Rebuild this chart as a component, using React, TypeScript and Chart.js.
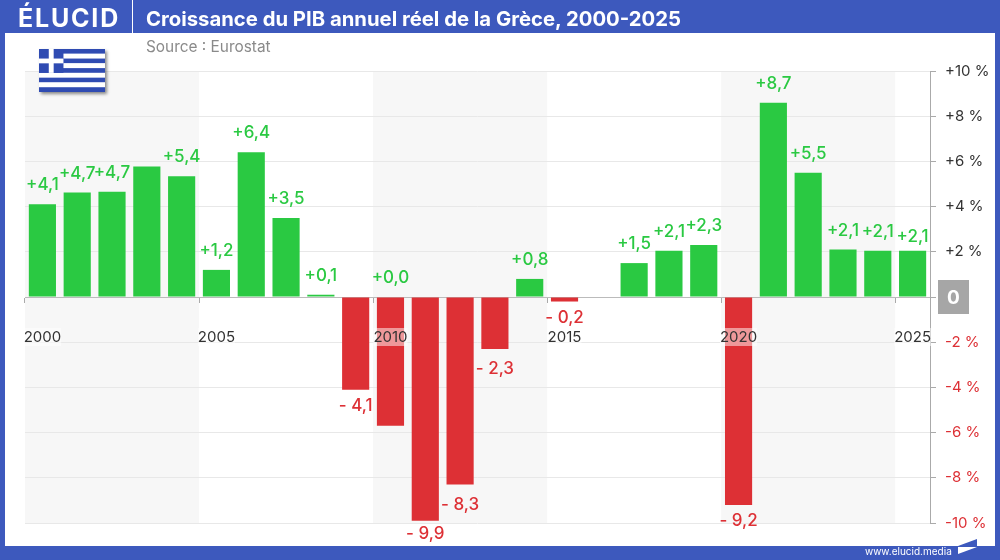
import { useEffect, useRef } from "react";
import { Chart, registerables } from "chart.js";
Chart.register(...registerables);

const years = ["2000","2001","2002","2003","2004","2005","2006","2007","2008","2009","2010","2011","2012","2013","2014","2015","2016","2017","2018","2019","2020","2021","2022","2023","2024","2025"];
const growth = [4.1, 4.62, 4.66, 5.77, 5.34, 1.2, 6.4, 3.5, 0.1, -4.1, -5.7, -9.9, -8.3, -2.3, 0.8, -0.2, 0, 1.5, 2.05, 2.3, -9.2, 8.6, 5.5, 2.1, 2.05, 2.05];
// the source leaves some bars unlabelled, and prints +0,0 above 2010
const barLabels = ["+4,1", "+4,7", "+4,7", null, "+5,4", "+1,2", "+6,4", "+3,5", "+0,1", "- 4,1", "+0,0", "- 9,9", "- 8,3", "- 2,3", "+0,8", "- 0,2", null, "+1,5", "+2,1", "+2,3", "- 9,2", "+8,7", "+5,5", "+2,1", "+2,1", "+2,1"];
const shadedFrom = ["2000", "2010", "2020"];

const BLUE = "#3d59bd";
const GREEN = "#2ac942";
const RED = "#dd3035";
const FONT = "Inter, sans-serif";

// a few labels sit further from their bar in the original
const labelNudge: Record<string, number> = { "2011": -3, "2012": 4, "2013": 4, "2025": 5 };

const decorPlugin = {
  id: "decor",
  beforeDraw(chart: any) {
    const { ctx, chartArea, scales } = chart;
    const step = scales.x.width / years.length;
    ctx.save();
    ctx.fillStyle = "#f7f7f7";
    shadedFrom.forEach((y) => {
      const left = scales.x.getPixelForValue(years.indexOf(y)) - step / 2;
      ctx.fillRect(left, chartArea.top, step * 5, chartArea.height);
    });
    ctx.restore();
  },
  afterDatasetsDraw(chart: any) {
    const { ctx, scales, chartArea } = chart;
    ctx.save();
    ctx.font = "500 17px " + FONT;
    ctx.textAlign = "center";
    ctx.textBaseline = "middle";
    barLabels.forEach((label, i) => {
      if (!label) return;
      const up = label[0] === "+";
      const edge = up ? Math.max(growth[i], 0) : Math.min(growth[i], 0);
      const y = scales.y.getPixelForValue(edge) + (up ? -19 : 16) + (labelNudge[years[i]] || 0);
      ctx.fillStyle = up ? GREEN : RED;
      ctx.fillText(label, scales.x.getPixelForValue(i), y);
    });
    // grey box with the 0 of the value axis
    const zero = scales.y.getPixelForValue(0);
    ctx.fillStyle = "#a6a6a6";
    ctx.fillRect(chartArea.right + 8, zero - 17, 31, 34);
    ctx.fillStyle = "#ffffff";
    ctx.font = "700 19px " + FONT;
    ctx.fillText("0", chartArea.right + 23.5, zero + 1);
    ctx.restore();
  },
};

const GrowthChart = () => {
  const chartRef = useRef<HTMLCanvasElement | null>(null);

  useEffect(() => {
    if (!chartRef.current) return;
    const chart = new Chart(chartRef.current, {
      type: "bar",
      data: {
        labels: years,
        datasets: [
          {
            data: growth,
            backgroundColor: growth.map((v) => (v < 0 ? RED : GREEN)),
            barPercentage: 0.78,
            categoryPercentage: 1,
          },
        ],
      },
      options: {
        responsive: false,
        animation: false,
        layout: { padding: { left: 25, right: 0, top: 71, bottom: 37 } },
        plugins: { legend: { display: false }, tooltip: { enabled: false } },
        scales: {
          x: {
            position: { y: 0 },
            afterFit: (s: any) => {
              s.paddingLeft = 0;
              s.paddingRight = 0;
            },
            grid: {
              offset: true,
              drawOnChartArea: false,
              tickLength: 5,
              tickColor: (c: any) => (c.index % 5 === 0 ? "#aaaaaa" : "transparent"),
            },
            border: { color: "#bbbbbb" },
            ticks: {
              z: 1,
              autoSkip: false,
              maxRotation: 0,
              padding: 26,
              color: "#333333",
              font: { family: FONT, size: 15 },
              showLabelBackdrop: true,
              backdropColor: "rgba(255,255,255,0.5)",
              backdropPadding: { x: 0, y: 0 },
              callback: (_v: any, i: number) => (i % 5 === 0 ? years[i] : ""),
            },
          },
          y: {
            position: "right",
            min: -10,
            max: 10,
            afterFit: (s: any) => {
              s.width = 70;
            },
            grid: {
              color: (c: any) => (c.tick.value === 0 ? "#bbbbbb" : "#e8e8e8"),
              tickColor: "#aaaaaa",
              tickLength: 6,
            },
            border: { color: "#aaaaaa" },
            ticks: {
              stepSize: 2,
              padding: 9,
              color: (c: any) => (c.tick.value > 0 ? "#333333" : RED),
              font: { family: FONT, size: 15 },
              // the 0 is drawn in its grey box by the plugin
              callback: (v: any) => (v === 0 ? "" : v > 0 ? `+${v} %` : `-${-v} %`),
            },
          },
        },
      },
      plugins: [decorPlugin],
    } as any);
    return () => chart.destroy();
  }, []);

  return <canvas ref={chartRef} width={1000} height={560} style={{ position: "absolute", left: 0, top: 0, display: "block" }}></canvas>;
};

const Flag = () => {
  const stripes = [0, 1, 2, 3, 4, 5, 6, 7, 8];
  return (
    <svg width={66} height={43} viewBox="0 0 27 18" preserveAspectRatio="none" style={{ position: "absolute", left: 39, top: 49, boxShadow: "2px 2px 3px rgba(0,0,0,0.45)" }}>
      {stripes.map((s) => (
        <rect key={s} x={0} y={s * 2} width={27} height={2} fill={s % 2 ? "#ffffff" : "#2f4bb2"} />
      ))}
      <rect x={0} y={0} width={10} height={10} fill="#2f4bb2" />
      <rect x={4} y={0} width={2} height={10} fill="#ffffff" />
      <rect x={0} y={4} width={10} height={2} fill="#ffffff" />
    </svg>
  );
};

export default function App() {
  const text = { position: "absolute", fontFamily: FONT, whiteSpace: "nowrap" } as const;
  return (
    <div style={{ position: "absolute", left: 0, top: 0, width: 1000, height: 560, overflow: "hidden", background: "#ffffff" }}>
      <div style={{ position: "absolute", left: 0, top: 0, width: 1000, height: 33, background: BLUE }} />
      <div style={{ position: "absolute", left: 0, top: 546, width: 1000, height: 14, background: BLUE }} />
      <div style={{ position: "absolute", left: 0, top: 0, width: 5, height: 560, background: BLUE }} />
      <div style={{ position: "absolute", left: 995, top: 0, width: 5, height: 560, background: BLUE }} />
      <div style={{ position: "absolute", left: 132, top: 0, width: 1, height: 33, background: "#ffffff" }} />
      <GrowthChart />
      <div style={{ ...text, left: 18, top: 0, lineHeight: "36px", fontSize: 25, fontWeight: 700, letterSpacing: 1.8, color: "#ffffff" }}>ÉLUCID</div>
      <div style={{ ...text, left: 146, top: 0, lineHeight: "37px", fontSize: 20.3, fontWeight: 700, color: "#ffffff" }}>Croissance du PIB annuel réel de la Grèce, 2000-2025</div>
      <div style={{ ...text, left: 146, top: 37, lineHeight: "20px", fontSize: 15.4, color: "#8a8a8a" }}>Source : Eurostat</div>
      <div style={{ ...text, left: 865, top: 544, lineHeight: "14px", fontSize: 10, color: "#ffffff" }}>www.elucid.media</div>
      <svg width={20} height={17} style={{ position: "absolute", left: 958, top: 538 }}>
        <polygon points="0,8 19,1 19,8" fill={BLUE} />
        <polygon points="0,9 19,9 0,16" fill="#ffffff" />
      </svg>
      <Flag />
    </div>
  );
}
